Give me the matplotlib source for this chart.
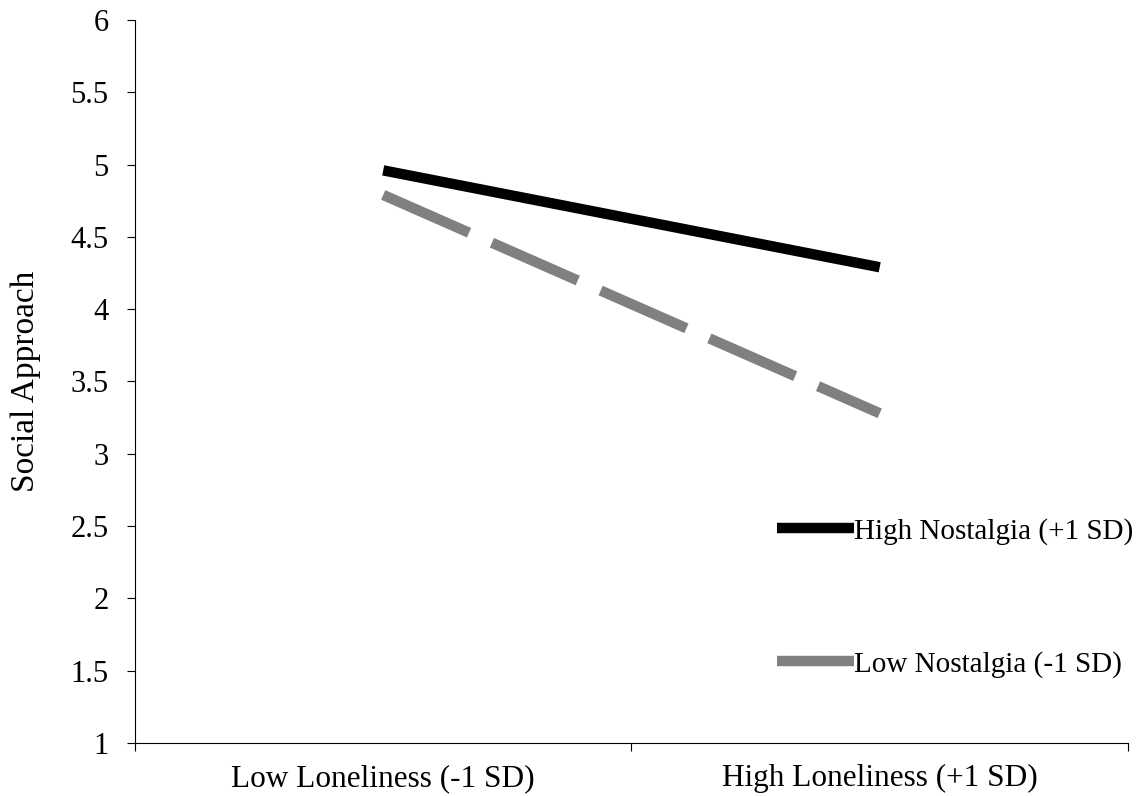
import numpy as np
import matplotlib
matplotlib.use("Agg")
import matplotlib.pyplot as plt

plt.rcParams['font.family'] = ['Liberation Serif', 'DejaVu Serif']

# data
categories = ["Low Loneliness (-1 SD)", "High Loneliness (+1 SD)"]
high_nostalgia = [4.96, 4.29]
low_nostalgia = [4.79, 3.28]
series_labels = ["High Nostalgia (+1 SD)", "Low Nostalgia (-1 SD)"]
y_ticks = [1, 1.5, 2, 2.5, 3, 3.5, 4, 4.5, 5, 5.5, 6]

fig = plt.figure(figsize=(11.42, 7.96), dpi=100)
ax = fig.add_axes([0.1182, 0.0666, 0.8695, 0.9083])

xpos = np.arange(len(categories)) + 0.5
ax.plot(xpos, high_nostalgia, color="black", lw=7.5, solid_capstyle="butt",
        label=series_labels[0])
ax.plot(xpos, low_nostalgia, color="#808080", lw=7.5, dashes=(9.0, 2.4),
        dash_capstyle="butt", label=series_labels[1])

ax.set_xlim(0, 2)
ax.set_ylim(1, 6)
ax.set_yticks(y_ticks)
ax.set_yticklabels([f"{t:g}" for t in y_ticks])
ax.set_xticks([0, 1, 2])
ax.set_xticklabels([])
ax.set_xticks(xpos, minor=True)
ax.set_xticklabels(categories, minor=True)
ax.tick_params(axis="x", which="minor", length=0, pad=15, labelsize=22.5)
ax.tick_params(axis="x", which="major", length=6, width=0.8, direction="out")
ax.tick_params(axis="y", length=6, width=0.8, direction="out", pad=13, labelsize=22)

for s in ["top", "right"]:
    ax.spines[s].set_visible(False)
for s in ["left", "bottom"]:
    ax.spines[s].set_linewidth(0.8)

ax.set_ylabel("Social Approach", fontsize=24)
ax.yaxis.set_label_coords(-0.0947, 0.5)

fig.legend(loc="center left", bbox_to_anchor=(0.680, 0.249), frameon=False,
           fontsize=21, handlelength=2.67, handletextpad=0.0, borderpad=0,
           borderaxespad=0, labelspacing=3.65)

fig.savefig("out.png", dpi=100)
